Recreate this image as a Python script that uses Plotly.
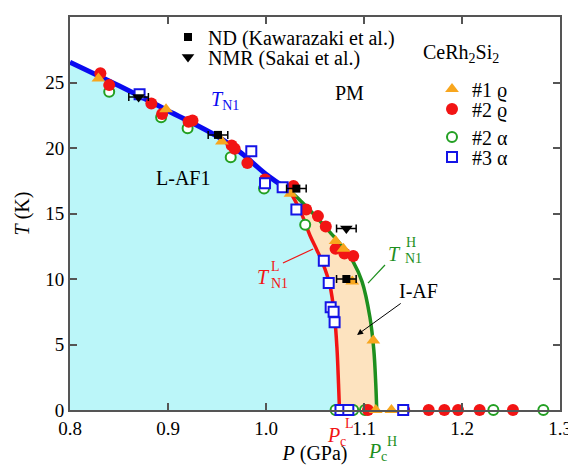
import plotly.graph_objects as go

# ---------------- data ----------------
# phase boundaries
blue_P = [0.80, 0.85, 0.90, 0.95, 0.975, 1.00, 1.024]
blue_T = [26.55, 24.75, 22.85, 20.9, 19.6, 18.0, 16.75]
red_P = [1.024, 1.035, 1.045, 1.052, 1.058, 1.065, 1.070, 1.0725, 1.074, 1.075]
red_T = [16.75, 15.2, 13.3, 12.2, 11.2, 9.6, 7.1, 4.6, 2.0, 0.0]
green_P = [1.024, 1.035, 1.048, 1.065, 1.080, 1.089, 1.098, 1.106, 1.110, 1.112, 1.113]
green_T = [16.75, 16.0, 15.0, 13.6, 12.3, 11.3, 9.8, 7.1, 4.6, 2.0, 0.0]

# #1 rho (orange triangles)
s1rho_P = [0.829, 0.898, 0.955, 1.025, 1.071, 1.079, 1.088, 1.1095, 1.112, 1.128]
s1rho_T = [25.3, 22.95, 20.5, 16.5, 12.9, 12.3, 9.8, 5.3, 0.0, 0.0]
# #2 rho (red circles)
s2rho_P = [0.831, 0.840, 0.883, 0.894, 0.921, 0.925, 0.965, 0.968, 0.981, 0.999,
           1.028, 1.041, 1.053, 1.061, 1.071, 1.080, 1.089,
           1.104, 1.141, 1.166, 1.182, 1.196, 1.218, 1.252]
s2rho_T = [25.7, 24.8, 23.4, 22.6, 22.0, 22.1, 20.2, 19.95, 18.85, 17.6,
           17.1, 15.3, 14.8, 14.0, 12.3, 11.95, 11.75,
           0.0, 0.0, 0.0, 0.0, 0.0, 0.0, 0.0]
# #2 alpha (green open circles)
s2a_P = [0.840, 0.893, 0.920, 0.964, 0.998, 1.040, 1.071, 1.089, 1.101, 1.232, 1.283]
s2a_T = [24.3, 22.35, 21.5, 19.3, 16.9, 14.15, 0.0, 0.0, 0.0, 0.0, 0.0]
# #3 alpha (blue open squares)
s3a_P = [0.871, 0.985, 0.999, 1.017, 1.031, 1.059, 1.064, 1.066, 1.069, 1.070, 1.076, 1.084, 1.140]
s3a_T = [24.1, 19.75, 17.3, 17.0, 15.3, 11.4, 9.7, 7.85, 7.5, 6.7, 0.0, 0.0, 0.0]
# ND (Kawarazaki et al.)
nd_P = [0.951, 1.031, 1.082]
nd_T = [21.0, 16.9, 10.0]
nd_err = [0.01, 0.01, 0.01]
# NMR (Sakai et al.)
nmr_P = [0.870, 1.082]
nmr_T = [23.9, 13.85]
nmr_err = [0.01, 0.01]

x_ticks = [0.8, 0.9, 1.0, 1.1, 1.2, 1.3]
x_ticktext = ["0.8", "0.9", "1.0", "1.1", "1.2", "1.3"]
y_ticks = [0, 5, 10, 15, 20, 25, 30]

# ---------------- styles ----------------
FONT = "Liberation Serif"
C_BLUE = "#0a0af0"
C_RED = "#f21414"
C_GREEN = "#1e8f1e"
C_GREEN_M = "#23a023"
C_ORANGE = "#f8a61e"
C_CYAN = "#bbf6f9"
C_PEACH = "#fde3bf"
AX = "#555555"

fig = go.Figure()

# fills
fig.add_trace(go.Scatter(x=[blue_P[0]] + blue_P + red_P[1:], y=[0] + blue_T + red_T[1:],
                         fill="toself", fillcolor=C_CYAN, mode="none",
                         hoverinfo="skip", showlegend=False))
fig.add_trace(go.Scatter(x=red_P + green_P[::-1], y=red_T + green_T[::-1],
                         fill="toself", fillcolor=C_PEACH, mode="none",
                         hoverinfo="skip", showlegend=False))
# boundary lines
fig.add_trace(go.Scatter(x=green_P, y=green_T, mode="lines", line=dict(color=C_GREEN, width=3.5, shape="spline"),
                         showlegend=False, hoverinfo="skip"))
fig.add_trace(go.Scatter(x=red_P, y=red_T, mode="lines", line=dict(color=C_RED, width=3.5, shape="spline"),
                         showlegend=False, hoverinfo="skip"))
fig.add_trace(go.Scatter(x=blue_P, y=blue_T, mode="lines", line=dict(color=C_BLUE, width=5, shape="spline"),
                         showlegend=False, hoverinfo="skip"))

# data markers
fig.add_trace(go.Scatter(x=s2a_P, y=s2a_T, mode="markers", name="#2 α", legend="legend5",
                         marker=dict(symbol="circle", size=10, color="white",
                                     line=dict(color=C_GREEN_M, width=2)), cliponaxis=False))
fig.add_trace(go.Scatter(x=s2rho_P, y=s2rho_T, mode="markers", name="#2 ϱ", legend="legend4",
                         marker=dict(symbol="circle", size=12, color=C_RED,
                                     line=dict(width=0)), cliponaxis=False))
fig.add_trace(go.Scatter(x=s1rho_P, y=s1rho_T, mode="markers", name="#1 ϱ", legend="legend3",
                         marker=dict(symbol="triangle-up", size=12, color=C_ORANGE,
                                     line=dict(width=0)), cliponaxis=False))
fig.add_trace(go.Scatter(x=s3a_P, y=s3a_T, mode="markers", name="#3 α", legend="legend6",
                         marker=dict(symbol="square", size=10, color="white",
                                     line=dict(color="#1414e6", width=2)), cliponaxis=False))
fig.add_trace(go.Scatter(x=nd_P, y=nd_T, mode="markers", name="ND (Kawarazaki et al.)", legend="legend",
                         marker=dict(symbol="square", size=8, color="black"),
                         error_x=dict(type="data", array=nd_err, color="black", thickness=1.5, width=4),
                         cliponaxis=False))
fig.add_trace(go.Scatter(x=nmr_P, y=nmr_T, mode="markers", name="NMR (Sakai et al.)", legend="legend2",
                         marker=dict(symbol="triangle-down", size=11, color="black"),
                         error_x=dict(type="data", array=nmr_err, color="black", thickness=1.5, width=4),
                         cliponaxis=False))

# leader lines
fig.add_shape(type="line", x0=1.0173, y0=11.22, x1=1.048, y1=12.29, line=dict(color=C_RED, width=1.2))
fig.add_shape(type="line", x0=1.1214, y0=11.07, x1=1.1041, y1=9.69, line=dict(color=C_GREEN, width=1.2))


def ann(x, y, text, size=20, color="black", xanchor="center", yref="y"):
    fig.add_annotation(x=x, y=y, text=text, showarrow=False, xanchor=xanchor, yanchor="middle",
                       xref="x", yref=yref,
                       font=dict(family=FONT, size=size, color=color))


ann(0.9582, 23.59, "<i>T</i><sub>N1</sub>", color=C_BLUE)
ann(1.0857, 24.2, "PM")
ann(0.9153, 17.71, "L-AF1")
ann(1.199, 27.25, "CeRh<sub>2</sub>Si<sub>2</sub>")
# T_N1^L
ann(0.997, 10.15, "<i>T</i>", color=C_RED)
ann(1.0031, 10.99, "L", size=14, color=C_RED, xanchor="left")
ann(1.0031, 9.62, "N1", size=14, color=C_RED, xanchor="left")
# T_N1^H
ann(1.1316, 11.91, "<i>T</i>", color=C_GREEN)
ann(1.1408, 12.75, "H", size=14, color=C_GREEN, xanchor="left")
ann(1.1398, 11.53, "N1", size=14, color=C_GREEN, xanchor="left")
# P_c^L (below the axis, paper y)
ann(1.0684, -0.0636, "<i>P</i>", color=C_RED, yref="paper")
ann(1.0735, -0.0789, "c", size=14, color=C_RED, xanchor="left", yref="paper")
ann(1.0786, -0.0356, "L", size=14, color=C_RED, xanchor="left", yref="paper")
# P_c^H
ann(1.1102, -0.104, "<i>P</i>", color=C_GREEN, yref="paper")
ann(1.1153, -0.119, "c", size=14, color=C_GREEN, xanchor="left", yref="paper")
ann(1.1214, -0.079, "H", size=14, color=C_GREEN, xanchor="left", yref="paper")
# I-AF with arrow
fig.add_annotation(x=1.0929, y=5.73, ax=61, ay=-44, text="I-AF", showarrow=True,
                   arrowhead=2, arrowsize=1.2, arrowwidth=1, arrowcolor="black",
                   font=dict(family=FONT, size=20, color="black"))


def leg(px_text_left, py_center):
    return dict(x=(px_text_left - 40 - 70) / 490, y=(410 - py_center) / 393,
                xanchor="left", yanchor="middle", bgcolor="rgba(0,0,0,0)",
                font=dict(family=FONT, size=20, color="black"), itemwidth=30)


fig.update_layout(
    width=568, height=457,
    margin=dict(l=62, r=16, t=9, b=55, autoexpand=False),
    paper_bgcolor="white", plot_bgcolor="white",
    font=dict(family=FONT, size=19, color="black"),
    showlegend=True,
    legend=leg(208, 37),
    legend2=leg(208, 57),
    legend3=leg(472, 89),
    legend4=leg(472, 109),
    legend5=leg(472, 137),
    legend6=leg(472, 157),
    xaxis=dict(range=[0.8, 1.3], tickvals=x_ticks, ticktext=x_ticktext, automargin=False,
               ticks="inside", ticklen=7, tickwidth=1.5, tickcolor=AX,
               showline=True, linecolor=AX, linewidth=2, mirror="ticks",
               showgrid=False, zeroline=False,
               tickfont=dict(family=FONT, size=19, color="black"),
               title=dict(text="<i>P</i> (GPa)", standoff=12,
                          font=dict(family=FONT, size=20, color="black"))),
    yaxis=dict(range=[0, 30], tickvals=y_ticks, automargin=False,
               ticks="inside", ticklen=7, tickwidth=1.5, tickcolor=AX,
               showline=True, linecolor=AX, linewidth=2, mirror="ticks",
               showgrid=False, zeroline=False,
               tickfont=dict(family=FONT, size=19, color="black"),
               title=dict(text="<i>T</i> (K)", standoff=10,
                          font=dict(family=FONT, size=20, color="black"))),
)

fig.write_html("out.html")
